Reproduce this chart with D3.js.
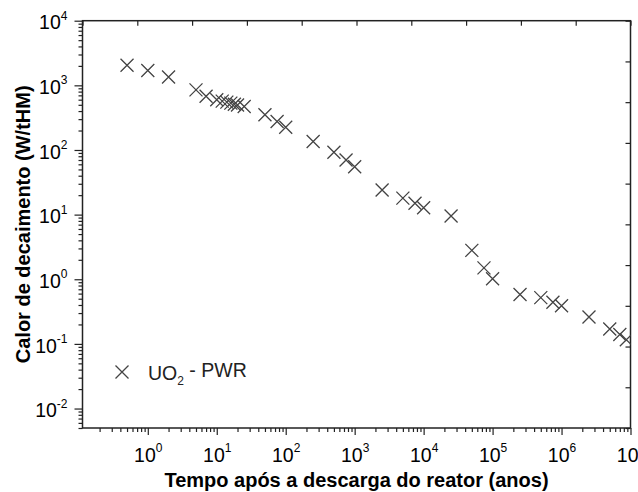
<!DOCTYPE html>
<html lang="pt">
<head>
  <meta charset="UTF-8">
  <title>Calor de decaimento</title>
  <script src="https://d3js.org/d3.v7.min.js"></script>
  <style>
    body { margin: 0; background: #fff; }
    text { font-family: "Liberation Sans", Arial, sans-serif; }
  </style>
</head>
<body>
<svg width="638" height="492"></svg>
<script>
  // tempo apos descarga (anos) e calor de decaimento (W/tHM)
  var years = [0.5, 1, 2, 5, 7, 10, 12, 14, 16, 18, 20, 25, 50, 75, 100, 250, 500, 750, 1000,
    2500, 5000, 7500, 10000, 25000, 50000, 75000, 100000, 250000, 500000, 750000, 1000000,
    2500000, 5000000, 7000000, 8700000];
  var heat = [2050, 1700, 1350, 850, 680, 600, 570, 550, 530, 510, 495, 470, 350, 275, 225, 135, 92, 70, 55,
    24, 18, 15, 12.8, 9.5, 2.8, 1.5, 1.02, 0.58, 0.52, 0.44, 0.39,
    0.26, 0.17, 0.14, 0.116];
  var xExponents = [0, 1, 2, 3, 4, 5, 6, 7];
  var yExponents = [-2, -1, 0, 1, 2, 3, 4];
  var seriesName = 'UO';

  var svg = d3.select('svg');
  var plotL = 82.5, plotR = 630.5, plotT = 20.7, plotB = 428;

  var x = d3.scaleLog().domain([0.113, 1e7]).range([plotL, plotR]);
  var y = d3.scaleLog().domain([0.005, 1e4]).range([plotB, plotT]);

  function minors(scale) {
    var d = scale.domain(), out = [];
    for (var e = -3; e <= 8; e++) {
      for (var m = 2; m <= 9; m++) {
        var v = m * Math.pow(10, e);
        if (v >= d[0] && v <= d[1]) out.push(v);
      }
    }
    return out;
  }

  var axisColor = '#222';

  // bottom axis: majors + minors
  var gx = svg.append('g')
    .attr('transform', 'translate(0,' + plotB + ')')
    .call(d3.axisBottom(x)
      .tickValues(xExponents.map(function (e) { return Math.pow(10, e); }))
      .tickSize(7).tickPadding(9)
      .tickFormat(function () { return ''; }));
  gx.selectAll('.tick text').each(function (d, i) {
    var t = d3.select(this).attr('font-size', 19.5).attr('fill', '#000').attr('dy', '0.9em');
    t.append('tspan').text('10');
    t.append('tspan').attr('font-size', 12).attr('dy', '-0.8em').text(xExponents[i]);
  });
  svg.append('g')
    .attr('transform', 'translate(0,' + plotB + ')')
    .call(d3.axisBottom(x).tickValues(minors(x)).tickSize(4).tickFormat(''));

  // left axis
  var gy = svg.append('g')
    .attr('transform', 'translate(' + plotL + ',0)')
    .call(d3.axisLeft(y)
      .tickValues(yExponents.map(function (e) { return Math.pow(10, e); }))
      .tickSize(8).tickPadding(7)
      .tickFormat(function () { return ''; }));
  gy.selectAll('.tick text').each(function (d, i) {
    var t = d3.select(this).attr('font-size', 19.5).attr('fill', '#000').attr('dy', '0.42em');
    t.append('tspan').text('10');
    t.append('tspan').attr('font-size', 12).attr('dy', '-0.8em').text(yExponents[i]);
  });
  svg.append('g')
    .attr('transform', 'translate(' + plotL + ',0)')
    .call(d3.axisLeft(y).tickValues(minors(y)).tickSize(4).tickFormat(''));

  // top and right mirror axes (linear, 10 divisions, inward ticks)
  var xt = d3.scaleLinear().domain([0, 10]).range([plotL, plotR]);
  var yr = d3.scaleLinear().domain([0, 10]).range([plotB, plotT]);
  svg.append('g')
    .attr('transform', 'translate(0,' + plotT + ')')
    .call(d3.axisBottom(xt).ticks(10).tickSize(5).tickFormat(''));
  svg.append('g')
    .attr('transform', 'translate(' + plotR + ',0)')
    .call(d3.axisLeft(yr).ticks(10).tickSize(5).tickFormat(''));

  svg.selectAll('.domain').remove();
  svg.selectAll('.tick line').attr('stroke', axisColor).attr('stroke-width', 1.2);

  svg.append('rect')
    .attr('x', plotL).attr('y', plotT)
    .attr('width', plotR - plotL).attr('height', plotB - plotT)
    .attr('fill', 'none').attr('stroke', axisColor).attr('stroke-width', 1.5);

  // markers
  svg.append('clipPath').attr('id', 'plot-clip')
    .append('rect').attr('x', plotL).attr('y', plotT)
    .attr('width', plotR - plotL).attr('height', plotB - plotT);

  var s = 6.5;
  function cross(cx, cy) {
    return 'M' + (cx - s) + ',' + (cy - s) + 'L' + (cx + s) + ',' + (cy + s) +
      'M' + (cx - s) + ',' + (cy + s) + 'L' + (cx + s) + ',' + (cy - s);
  }

  svg.append('g')
    .attr('clip-path', 'url(#plot-clip)')
    .selectAll('path')
    .data(years)
    .enter().append('path')
    .attr('d', function (d, i) { return cross(x(d), y(heat[i])); })
    .attr('fill', 'none')
    .attr('stroke', '#444')
    .attr('stroke-width', 1.3);

  // legend
  svg.append('path')
    .attr('d', cross(122, 372))
    .attr('fill', 'none').attr('stroke', '#444').attr('stroke-width', 1.3);
  var lt = svg.append('text')
    .attr('x', 148).attr('y', 380)
    .attr('font-size', 19.5).attr('fill', '#222');
  lt.append('tspan').text(seriesName);
  lt.append('tspan').attr('font-size', 12).attr('dy', '0.45em').text('2');
  lt.append('tspan').attr('dy', '-0.45em').text(' - PWR');

  // axis titles
  svg.append('text')
    .attr('x', (plotL + plotR) / 2).attr('y', 487)
    .attr('text-anchor', 'middle')
    .attr('font-size', 20).attr('font-weight', 'bold')
    .text('Tempo após a descarga do reator (anos)');

  svg.append('text')
    .attr('transform', 'translate(30,' + (plotT + plotB) / 2 + ') rotate(-90)')
    .attr('text-anchor', 'middle')
    .attr('font-size', 20).attr('font-weight', 'bold')
    .text('Calor de decaimento (W/tHM)');
</script>
</body>
</html>
